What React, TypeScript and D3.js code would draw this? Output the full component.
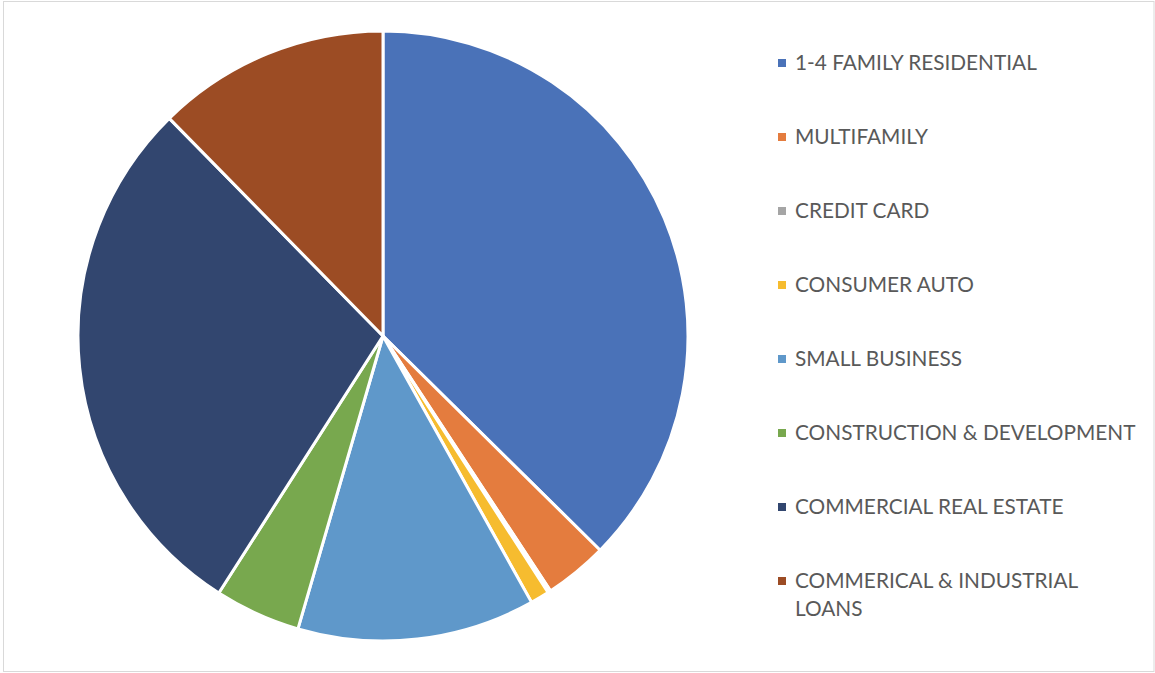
import React from "react";
import * as d3 from "d3";

const categories = [
  "1-4 FAMILY RESIDENTIAL",
  "MULTIFAMILY",
  "CREDIT CARD",
  "CONSUMER AUTO",
  "SMALL BUSINESS",
  "CONSTRUCTION & DEVELOPMENT",
  "COMMERCIAL REAL ESTATE",
  "COMMERICAL & INDUSTRIAL LOANS",
];
const values = [37.4, 3.36, 0.15, 1.0, 12.6, 4.55, 28.6, 12.36];
const colors = ["#4A72B8", "#E47C3E", "#A5A5A5", "#F6BC2F", "#5F98CA", "#78A84E", "#32466F", "#9C4C24"];
const legendLines = [
  ["1-4 FAMILY RESIDENTIAL"],
  ["MULTIFAMILY"],
  ["CREDIT CARD"],
  ["CONSUMER AUTO"],
  ["SMALL BUSINESS"],
  ["CONSTRUCTION & DEVELOPMENT"],
  ["COMMERCIAL REAL ESTATE"],
  ["COMMERICAL & INDUSTRIAL", "LOANS"],
];

export default function App() {
  const W = 1155, H = 673;
  const cx = 383, cy = 336, r = 305;
  const pie = d3.pie<number>().sort(null).value((d) => d);
  const arcs = pie(values);
  const arc = d3.arc<d3.PieArcDatum<number>>().innerRadius(0).outerRadius(r);
  const legendY = d3.scalePoint<string>().domain(categories).range([63, 581]);
  return (
    <svg width={W} height={H} style={{ position: "absolute", left: 0, top: 0 }} fontFamily="Lato, 'Open Sans', sans-serif">
      <rect x={0} y={0} width={W} height={H} fill="#fff" />
      <rect x={3.5} y={1.5} width={1150.5} height={670} fill="none" stroke="#d9d9d9" strokeWidth={1} />
      <g transform={`translate(${cx},${cy})`}>
        {arcs.map((a, i) => (
          <path key={i} d={arc(a) || ""} fill={colors[i]} stroke="#fff" strokeWidth={3} strokeLinejoin="round" />
        ))}
      </g>
      <g>
        {categories.map((c, i) => {
          const y = legendY(c) as number;
          return (
            <g key={c}>
              <rect x={778} y={y - 4} width={8} height={8} fill={colors[i]} />
              {legendLines[i].map((t, j) => (
                <text key={j} x={795} y={y + 7 + j * 28} fontSize={20.8} fill="#595959">
                  {t}
                </text>
              ))}
            </g>
          );
        })}
      </g>
    </svg>
  );
}
